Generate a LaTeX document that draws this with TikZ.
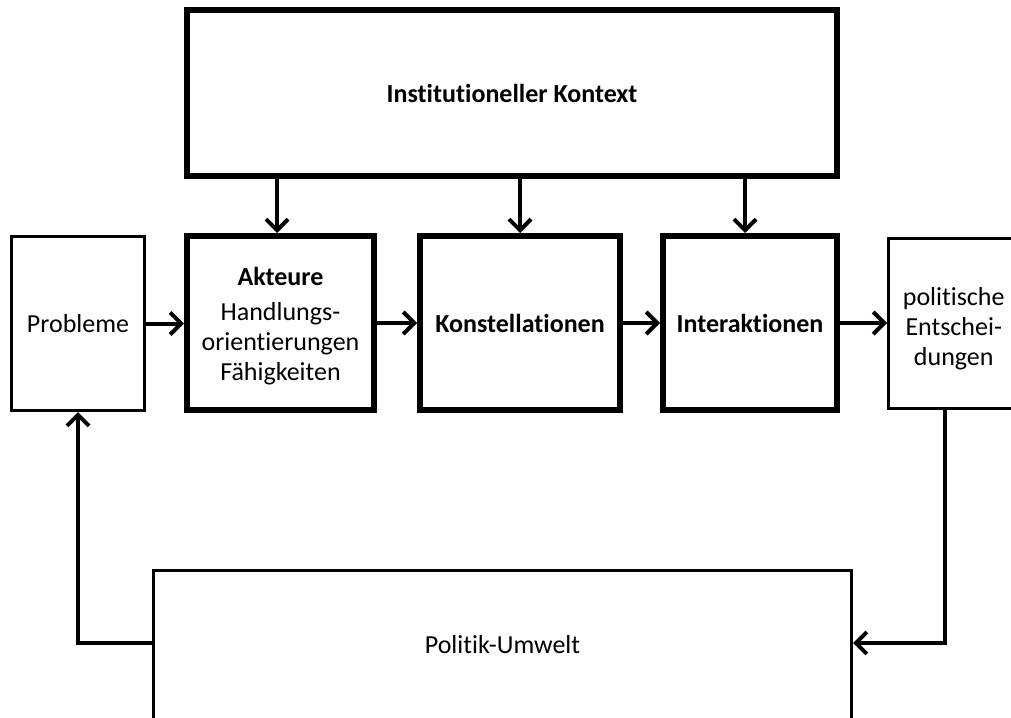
\documentclass[tikz,border=0pt]{standalone}
\usepackage{fontspec}
\setmainfont[Ligatures=NoCommon]{Carlito}
\usetikzlibrary{arrows.meta}
\begin{document}
\begin{tikzpicture}[x=1pt,y=-1pt,
  box/.style={draw, rectangle, line width=6pt, inner sep=0pt, align=center,
    font=\fontsize{26}{30}\selectfont},
  thinbox/.style={box, line width=3pt},
  arr/.style={line width=4pt, -{Straight Barb[length=11pt,width=22pt]}}]
\useasboundingbox (0,0) rectangle (1011,717);
\fill[white] (0,0) rectangle (1011,717);
\clip (0,0) rectangle (1011,717);

% main chain
\node[box, minimum width=650pt, minimum height=166pt] (inst) at (512,93)
  {\textbf{Institutioneller Kontext}};
\node[box, minimum width=187pt, minimum height=174pt] (akt) at (280.5,323)
  {\rule{0pt}{25pt}\textbf{Akteure}\\[5pt]Handlungs-\\orientierungen\\Fähigkeiten};
\node[box, minimum width=200pt, minimum height=174pt] (kon) at (520,323)
  {\textbf{Konstellationen}};
\node[box, minimum width=174pt, minimum height=174pt] (int) at (750,323)
  {\textbf{Interaktionen}};
\node[thinbox, minimum width=133pt, minimum height=174pt] (prob) at (78,323.5)
  {Probleme};
\node[thinbox, minimum width=130.5pt, minimum height=170pt] (pol) at (953.75,323.5)
  {\rule{0pt}{29pt}politische\\Entschei-\\dungen};

% environment box, running off the lower edge
\node[thinbox, minimum width=698pt, text height=82.5pt, text depth=120pt,
  anchor=base] (umw) at (502.5,653) {Politik-Umwelt};

% influence of the institutional context
\draw[arr] ([xshift=-3.5pt]inst.south -| akt.north) -- ([xshift=-3.5pt]akt.north);
\draw[arr] (inst.south -| kon.north) -- (kon.north);
\draw[arr] ([xshift=-5pt]inst.south -| int.north) -- ([xshift=-5pt]int.north);

% horizontal flow
\begin{scope}[yshift=-3.5pt]
\draw[arr] (prob.east) -- (prob.east -| akt.west);
\draw[arr] (akt.east) -- (kon.west);
\draw[arr] (kon.east) -- (int.west);
\draw[arr] (int.east) -- (int.east -| pol.west);
\end{scope}

% feedback loop
\coordinate (rin) at (945,643);
\coordinate (lin) at (78,643);
\draw[arr] (pol.south -| rin) |- (rin -| umw.east);
\draw[arr] (lin -| umw.west) -| (prob.south);
\end{tikzpicture}
\end{document}
